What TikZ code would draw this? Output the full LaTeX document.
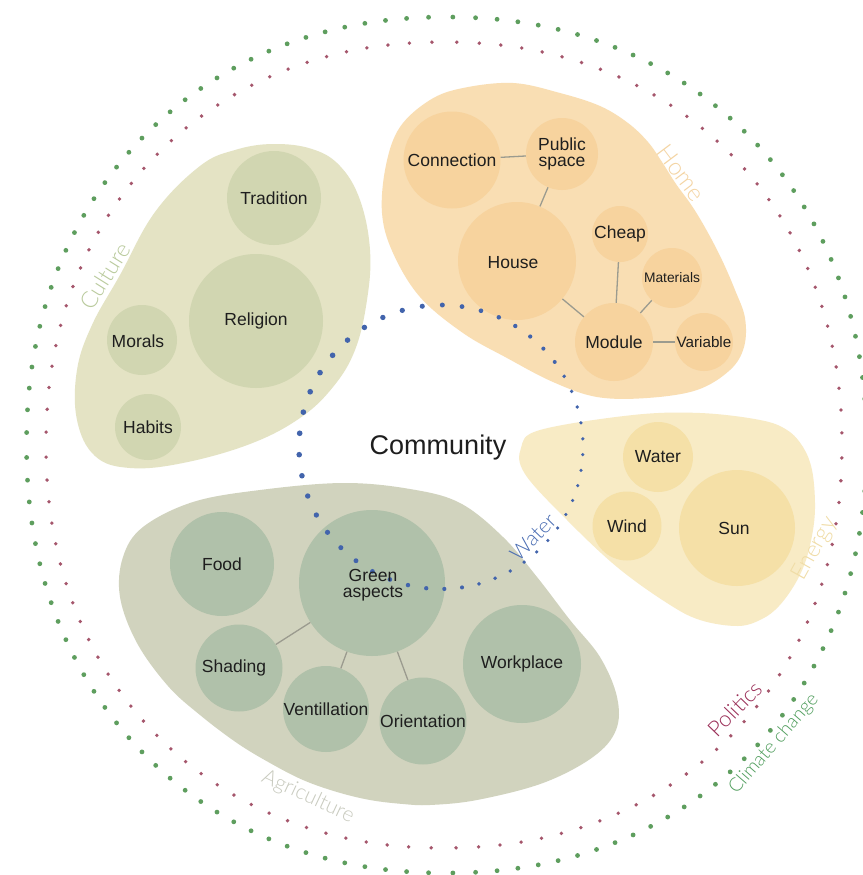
\documentclass[tikz,border=0pt]{standalone}
\usepackage{fontspec}
\setmainfont{Liberation Sans}
\IfFontExistsTF{Lato Light}{\newfontfamily\thinfont{Lato Light}}{\newfontfamily\thinfont{Lato}}

\definecolor{ink}{HTML}{1E1E1E}
\definecolor{cultA}{HTML}{E4E3C4}
\definecolor{cultB}{HTML}{D1D6B1}
\definecolor{homeA}{HTML}{F9DEB3}
\definecolor{homeB}{HTML}{F7D39E}
\definecolor{enA}{HTML}{F8EBC5}
\definecolor{enB}{HTML}{F5E0A7}
\definecolor{agA}{HTML}{D1D3BE}
\definecolor{agB}{HTML}{B0C1AA}
\definecolor{linkc}{HTML}{9B9B8F}
\definecolor{ringG}{HTML}{5E9E5E}
\definecolor{ringR}{HTML}{A5566C}
\definecolor{ringB}{HTML}{4264AC}
\definecolor{labCult}{HTML}{B9CA9C}
\definecolor{labHome}{HTML}{F4D4A2}
\definecolor{labEn}{HTML}{F0DCA5}
\definecolor{labAg}{HTML}{C8CABE}
\definecolor{labWater}{HTML}{4A6DB3}
\definecolor{labPol}{HTML}{9A2E57}
\definecolor{labClim}{HTML}{4F9D5C}

\begin{document}
\begin{tikzpicture}[x=1pt,y=-1pt,
  bub/.style={circle, inner sep=0pt, minimum size=#1},
  txt/.style={font=\fontsize{17.5}{16}\selectfont, text=ink, align=center, inner sep=0pt},
  smalltxt/.style={font=\fontsize{#1}{#1}\selectfont, text=ink, inner sep=0pt},
  link/.style={draw=linkc, line width=1.3pt},
  lab/.style={font=\thinfont\fontsize{#1}{#1}\selectfont, inner sep=0pt},
]
\fill[white] (0,0) rectangle (862,875);
\useasboundingbox (0,0) rectangle (862,875);

% outer rings (slightly squarish ovals): climate change (green) and politics (red)
\foreach \i in {0,...,132} {
  \pgfmathsetmacro{\ang}{360/133*\i}
  \pgfmathsetmacro{\ucos}{cos(\ang)*(abs(cos(\ang))+0.0001)^(-0.0566)}
  \pgfmathsetmacro{\usin}{sin(\ang)*(abs(sin(\ang))+0.0001)^(-0.0566)}
  \fill[ringG] ({446.5+420*\ucos},{445+428*\usin}) circle (2.4pt);
}
\foreach \i in {0,...,123} {
  \pgfmathsetmacro{\ang}{360/124*\i+1.5}
  \pgfmathsetmacro{\ucos}{cos(\ang)*(abs(cos(\ang))+0.0001)^(-0.0566)}
  \pgfmathsetmacro{\usin}{sin(\ang)*(abs(sin(\ang))+0.0001)^(-0.0566)}
  \fill[ringR] ({444+398*\ucos},{445+403*\usin}) circle (1.9pt);
}

% culture
\fill[cultA] plot[smooth cycle, tension=0.65] coordinates {
  (273,144) (312,149) (340,166) (360,200) (370,250) (367,300) (355,350)
  (333,387) (300,418) (250,444) (183,463) (130,468) (95,456) (77,420)
  (77,370) (92,325) (120,275) (155,212) (200,166) (235,150)};
\node[bub=94pt, fill=cultB] (trad) at (274,198) {};
\node[bub=134pt, fill=cultB] (rel) at (256,321) {};
\node[bub=70pt, fill=cultB] (mor) at (142,340) {};
\node[bub=66pt, fill=cultB] (hab) at (148,427) {};

% home
\fill[homeA] plot[smooth cycle, tension=0.6] coordinates {
  (513,83) (560,93) (600,106) (628,123) (648,142) (662,162) (676,184)
  (692,206) (707,231) (722,260) (735,290) (745,318) (744,347) (730,370)
  (697,390) (647,398) (597,397) (553,382) (507,358) (463,333) (420,297)
  (393,253) (382,213) (386,165) (400,127) (430,100) (463,88)};
\node[bub=97pt, fill=homeB] (conn) at (452,160) {};
\node[bub=72pt, fill=homeB] (pub) at (562,154) {};
\node[bub=118pt, fill=homeB] (house) at (517,261) {};
\node[bub=56pt, fill=homeB] (cheap) at (620,234) {};
\node[bub=60pt, fill=homeB] (mat) at (672,278) {};
\node[bub=78pt, fill=homeB] (mod) at (614,342) {};
\node[bub=58pt, fill=homeB] (var) at (704,342) {};

% energy
\fill[enA] plot[smooth cycle, tension=0.6] coordinates {
  (633,415) (700,413) (760,420) (787,430) (803,447) (812,470) (815,503)
  (813,530) (806,560) (795,584) (779,606) (762,619) (738,626) (700,620)
  (667,603) (617,567) (567,520) (525,474) (521,448) (540,430)};
\node[bub=70pt, fill=enB] (wat) at (658,457) {};
\node[bub=69pt, fill=enB] (wind) at (627,526) {};
\node[bub=116pt, fill=enB] (sun) at (737,528) {};

% agriculture
\fill[agA] plot[smooth cycle, tension=0.6] coordinates {
  (343,483) (410,489) (460,503) (503,537) (537,577) (570,620) (600,657)
  (617,697) (616,730) (593,757) (543,783) (477,800) (430,805) (403,804)
  (370,800) (337,792) (303,780) (270,763) (237,743) (200,715) (168,686)
  (137,643) (120,597) (123,557) (143,527) (193,502) (260,490)};
\node[bub=104pt, fill=agB] (food) at (222,564) {};
\node[bub=146pt, fill=agB] (green) at (372,583) {};
\node[bub=87pt, fill=agB] (shad) at (239,668) {};
\node[bub=86pt, fill=agB] (vent) at (326,709) {};
\node[bub=87pt, fill=agB] (ori) at (423,721) {};
\node[bub=118pt, fill=agB] (work) at (522,664) {};

% links between bubbles
\draw[link] (conn) -- (pub);
\draw[link] (pub) -- (house);
\draw[link] (house) -- (mod);
\draw[link] (cheap) -- (mod);
\draw[link] (mat) -- (mod);
\draw[link] (mod) -- (var);
\draw[link] (green) -- (shad);
\draw[link] (green) -- (vent);
\draw[link] (green) -- (ori);

% water ring round the community
\foreach \i in {0,...,47} {
  \pgfmathsetmacro{\ph}{7.5*\i}
  \pgfmathsetmacro{\th}{\ph-9.06*sin(\ph-20)}
  \pgfmathsetmacro{\rr}{2.3-0.55*cos(\th-20)}
  \fill[ringB] ({441+142*cos(\th)},{447+142*sin(\th)}) circle (\rr pt);
}

% bubble texts
\node[txt] at (trad) {Tradition};
\node[txt] at (rel) {Religion};
\node[txt] at (138,341) {Morals};
\node[txt] at (hab) {Habits};
\node[txt] at (452,160) {Connection};
\node[txt] at (pub) {Public\\space};
\node[txt] at (513,263) {House};
\node[txt] at (cheap) {Cheap};
\node[smalltxt=13.8] at (mat) {Materials};
\node[txt] at (mod) {Module};
\node[smalltxt=15.2] at (var) {Variable};
\node[txt] at (wat) {Water};
\node[txt] at (wind) {Wind};
\node[txt] at (734,528) {Sun};
\node[txt] at (food) {Food};
\node[txt] at (373,585) {Green\\aspects};
\node[txt] at (234,668) {Shading};
\node[txt] at (vent) {Ventillation};
\node[txt] at (ori) {Orientation};
\node[txt] at (work) {Workplace};

\node[font=\fontsize{27}{30}\selectfont, text=ink, inner sep=0pt] (comm) at (438,448) {Community};

% group labels
\node[lab=23, text=labCult, rotate=58] at (105,276) {Culture};
\node[lab=24, text=labHome, rotate=-53] at (681,173) {Home};
\node[lab=23, text=labEn, rotate=61] at (815,549) {Energy};
\node[lab=21, text=labAg, rotate=-25] at (308,797) {Agriculture};
\node[lab=21, text=labWater, rotate=46] at (533,537) {Water};
\node[lab=22, text=labPol, rotate=46] at (735,709) {Politics};
\node[lab=19, text=labClim, rotate=49] at (774,744) {Climate change};
\end{tikzpicture}
\end{document}
